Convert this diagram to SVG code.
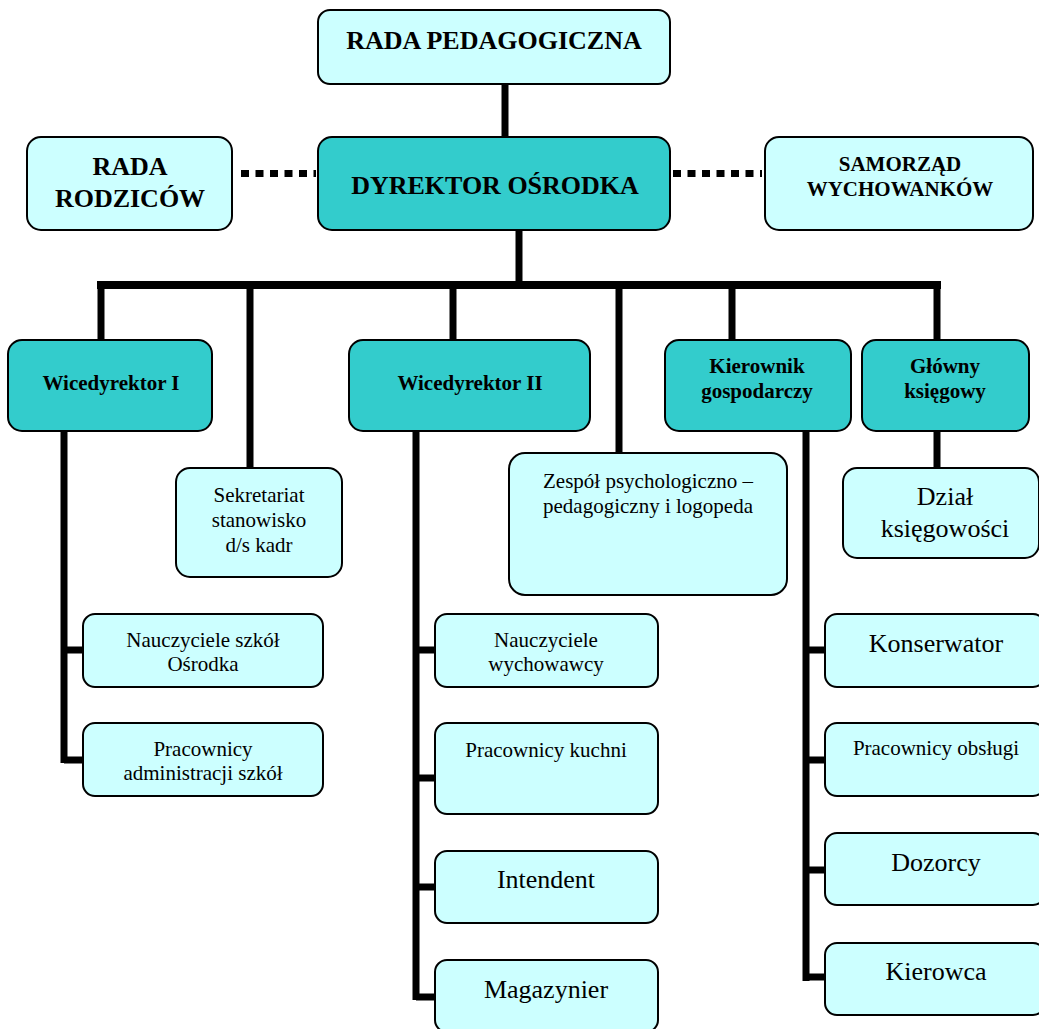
<svg xmlns="http://www.w3.org/2000/svg" width="1039" height="1029" viewBox="0 0 1039 1029">
<style>
.box{stroke:#000;stroke-width:2;}
.lt{fill:#CCFFFF;}
.dk{fill:#33CCCC;}
.ln{stroke:#000;stroke-width:7;fill:none;stroke-linecap:butt;}
.dot{stroke:#000;stroke-width:7;stroke-dasharray:8 6.5;fill:none;}
text{font-family:"Liberation Serif","Times New Roman",serif;fill:#000;text-anchor:middle;}
.b26{font-size:26px;font-weight:bold;}
.b21{font-size:21px;font-weight:bold;}
.r21{font-size:21px;}
.r26{font-size:26px;}
</style>
<rect width="1039" height="1029" fill="#fff"/>
<g id="connectors">
<line class="ln" x1="505" y1="84" x2="505" y2="138"/>
<line class="ln" x1="519" y1="230" x2="519" y2="285"/>
<line class="dot" x1="241" y1="173.5" x2="316" y2="173.5"/>
<line class="dot" x1="673" y1="173.5" x2="762" y2="173.5"/>
<line class="ln" x1="97" y1="285" x2="941" y2="285" style="stroke-width:8"/>
<line class="ln" x1="101" y1="285" x2="101" y2="341"/>
<line class="ln" x1="250" y1="285" x2="250" y2="469"/>
<line class="ln" x1="453" y1="285" x2="453" y2="341"/>
<line class="ln" x1="619" y1="285" x2="619" y2="453"/>
<line class="ln" x1="732" y1="285" x2="732" y2="341"/>
<line class="ln" x1="937" y1="285" x2="937" y2="341"/>
<line class="ln" x1="937" y1="431" x2="937" y2="469"/>
<path class="ln" d="M64 431 V763 M64 650 H84 M64 760 H84"/>
<path class="ln" d="M416 431 V1000 M416 650 H436 M416 778 H436 M416 887 H436 M416 997 H436"/>
<path class="ln" d="M806 431 V981 M806 650 H826 M806 760 H826 M806 870 H826 M806 977 H826"/>
</g>
<g id="n-rada-ped"><rect class="box lt" x="318" y="10" width="352" height="74" rx="12"/><text class="b26" x="494" y="49">RADA PEDAGOGICZNA</text></g>
<g id="n-dyrektor"><rect class="box dk" x="318" y="137" width="352" height="93" rx="14"/><text class="b26" x="495" y="194">DYREKTOR OŚRODKA</text></g>
<g id="n-rada-rodz"><rect class="box lt" x="27" y="137" width="205" height="93" rx="14"/><text class="b26" x="130" y="175">RADA</text><text class="b26" x="130" y="207">RODZICÓW</text></g>
<g id="n-samorzad"><rect class="box lt" x="765" y="137" width="268" height="93" rx="14"/><text class="b21" x="900" y="171">SAMORZĄD</text><text class="b21" x="900" y="196">WYCHOWANKÓW</text></g>
<g id="n-wice1"><rect class="box dk" x="8" y="340" width="204" height="91" rx="14"/><text class="b21" x="111" y="390">Wicedyrektor I</text></g>
<g id="n-wice2"><rect class="box dk" x="349" y="340" width="241" height="91" rx="14"/><text class="b21" x="470" y="390">Wicedyrektor II</text></g>
<g id="n-kier"><rect class="box dk" x="665" y="340" width="186" height="91" rx="14"/><text class="b21" x="757" y="373">Kierownik</text><text class="b21" x="757" y="398">gospodarczy</text></g>
<g id="n-glowny"><rect class="box dk" x="862" y="340" width="167" height="91" rx="14"/><text class="b21" x="945" y="373">Główny</text><text class="b21" x="945" y="398">księgowy</text></g>
<g id="n-sekr"><rect class="box lt" x="176" y="468" width="166" height="109" rx="14"/><text class="r21" x="259" y="502">Sekretariat</text><text class="r21" x="259" y="527">stanowisko</text><text class="r21" x="259" y="552">d/s kadr</text></g>
<g id="n-zespol"><rect class="box lt" x="509" y="453" width="278" height="142" rx="16"/><text class="r21" x="648" y="488">Zespół psychologiczno –</text><text class="r21" x="648" y="513">pedagogiczny i logopeda</text></g>
<g id="n-dzial"><rect class="box lt" x="843" y="468" width="196" height="90" rx="14"/><text class="r26" x="945" y="505">Dział</text><text class="r26" x="945" y="537">księgowości</text></g>
<g id="n-naucz-szk"><rect class="box lt" x="83" y="614" width="240" height="73" rx="12"/><text class="r21" x="203" y="647">Nauczyciele szkół</text><text class="r21" x="203" y="671">Ośrodka</text></g>
<g id="n-prac-adm"><rect class="box lt" x="83" y="723" width="240" height="73" rx="12"/><text class="r21" x="203" y="756">Pracownicy</text><text class="r21" x="203" y="780">administracji szkół</text></g>
<g id="n-naucz-wych"><rect class="box lt" x="435" y="614" width="223" height="73" rx="12"/><text class="r21" x="546" y="647">Nauczyciele</text><text class="r21" x="546" y="671">wychowawcy</text></g>
<g id="n-kuchnia"><rect class="box lt" x="435" y="723" width="223" height="91" rx="12"/><text class="r21" x="546" y="757">Pracownicy kuchni</text></g>
<g id="n-intendent"><rect class="box lt" x="435" y="851" width="223" height="72" rx="12"/><text class="r26" x="546" y="888">Intendent</text></g>
<g id="n-magazynier"><rect class="box lt" x="435" y="960" width="223" height="72" rx="12"/><text class="r26" x="546" y="998">Magazynier</text></g>
<g id="n-konserwator"><rect class="box lt" x="825" y="614" width="220" height="73" rx="12"/><text class="r26" x="936" y="652">Konserwator</text></g>
<g id="n-obsluga"><rect class="box lt" x="825" y="723" width="220" height="73" rx="12"/><text class="r21" x="936" y="755">Pracownicy obsługi</text></g>
<g id="n-dozorcy"><rect class="box lt" x="825" y="833" width="220" height="72" rx="12"/><text class="r26" x="936" y="871">Dozorcy</text></g>
<g id="n-kierowca"><rect class="box lt" x="825" y="943" width="220" height="72" rx="12"/><text class="r26" x="936" y="980">Kierowca</text></g>
</svg>
